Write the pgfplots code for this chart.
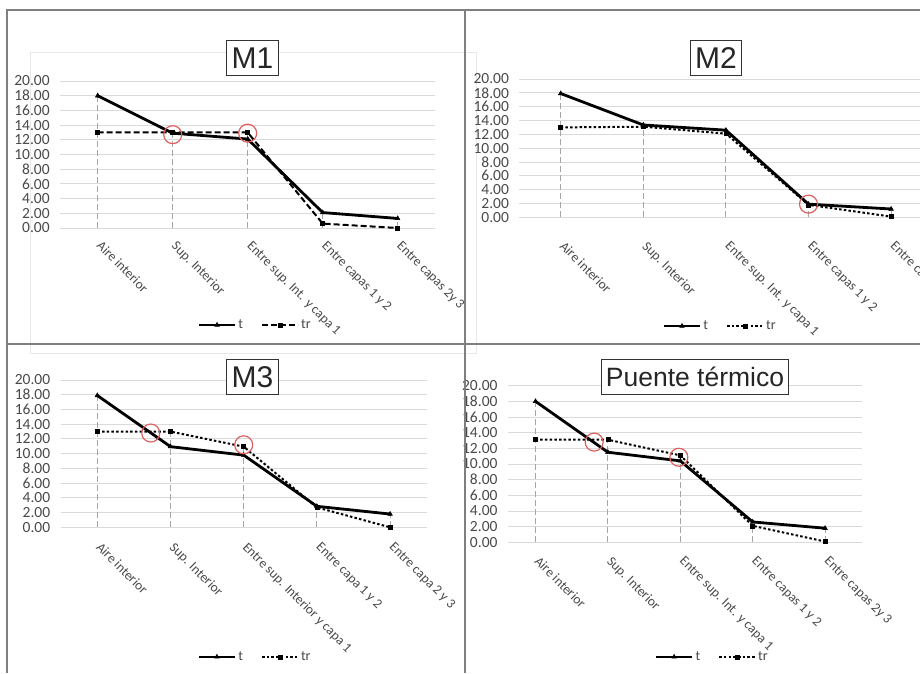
\documentclass[border=0pt]{standalone}
\usepackage{pgfplots}
\pgfplotsset{compat=1.18}
\usepackage{fontspec}
\setmainfont{Carlito}
\newfontfamily\arialf{Liberation Sans}

\definecolor{txt}{HTML}{4A4A4A}
\definecolor{grd}{HTML}{DADADA}
\definecolor{frm}{HTML}{7F7F7F}
\definecolor{drop}{HTML}{A6A6A6}
\definecolor{ring}{HTML}{E06060}

\pgfplotsset{
  panel/.style={
    scale only axis, anchor=south west,
    ymin=0, ymax=20, ytick={0,2,...,20}, xtick={0,...,4},
    axis line style={draw=none}, major tick length=0pt,
    ymajorgrids, grid style={color=grd, line width=0.9pt},
    /pgf/number format/assume math mode=true,
    yticklabel style={font=\fontsize{15.5}{16}\selectfont, color=txt, xshift=-7pt,
      /pgf/number format/.cd, fixed, fixed zerofill, precision=2},
    xticklabel style={font=\fontsize{13.5}{14}\selectfont, color=txt, rotate=-45,
      anchor=north west, inner sep=0pt, xshift=7pt},
    legend style={draw=none, fill=none, anchor=center, legend columns=2,
      font=\fontsize{14}{14}\selectfont, text=txt,
      /tikz/every even column/.append style={column sep=16pt}},
    legend image code/.code={\draw[mark repeat=2, mark phase=2]
      plot coordinates {(0pt,0pt) (18pt,0pt) (36pt,0pt)};},
  },
  tline/.style={black, line width=2.8pt, mark=triangle*, mark size=2.6pt,
    mark options={solid, line width=0.5pt}},
  trdash/.style={black, line width=2pt, dash pattern=on 6pt off 3pt, mark=square*,
    mark size=2pt, mark options={solid, line width=0.5pt}},
  trdot/.style={black, line width=2pt, dash pattern=on 2.5pt off 2.2pt, mark=square*,
    mark size=2pt, mark options={solid, line width=0.5pt}},
  drops/.style={ycomb, drop, line width=1pt, dash pattern=on 6pt off 3pt, no markers, forget plot},
  rings/.style={only marks, mark=o, mark size=9pt, mark options={ring, line width=1.2pt}, forget plot},
}

\begin{document}
\begin{tikzpicture}
\path[use as bounding box] (0pt,0pt) rectangle (920pt,673pt);
\clip (0pt,0pt) rectangle (920pt,673pt);
\fill[white] (0pt,0pt) rectangle (920pt,673pt);

% faint chart-area frame left over in the first panel
\draw[color=black!9, line width=1pt] (30pt,620pt) rectangle (476pt,320pt);

% ---------------- M1 ----------------
\begin{axis}[panel, at={(60.2pt,445pt)}, width=375pt, height=147pt,
  xmin=-0.5, xmax=4.5,
  xticklabels={Aire interior, Sup. Interior, Entre sup. Int. y capa 1, Entre capas 1 y 2, Entre capas 2y 3},
  xticklabel shift=7pt,
  legend style={at={(0.52,-0.66)}}]
\addplot[drops] coordinates {(0,18.0) (1,13.0) (2,13.0) (3,2.1) (4,1.3)};
\addplot[tline] coordinates {(0,18.0) (1,12.9) (2,12.1) (3,2.1) (4,1.3)};
\addplot[trdash] coordinates {(0,13.0) (1,13.0) (2,13.0) (3,0.6) (4,0.0)};
\addplot[rings] coordinates {(1,12.7) (2,12.9)};
\legend{t, tr}
\end{axis}

% ---------------- M2 ----------------
\begin{axis}[panel, at={(519.4pt,455.7pt)}, width=413pt, height=138.3pt,
  xmin=-0.5, xmax=4.5,
  xticklabels={Aire interior, Sup. Interior, Entre sup. Int. y capa 1, Entre capas 1 y 2, Entre capas 2y 3},
  xticklabel shift=18pt,
  legend style={at={(0.486,-0.786)}}]
\addplot[drops] coordinates {(0,17.9) (1,13.35) (2,12.6) (3,1.9) (4,1.2)};
\addplot[tline] coordinates {(0,17.9) (1,13.35) (2,12.6) (3,1.9) (4,1.2)};
\addplot[trdot] coordinates {(0,13.0) (1,13.1) (2,12.1) (3,1.8) (4,0.1)};
\addplot[rings] coordinates {(3,1.9)};
\legend{t, tr}
\end{axis}

% ---------------- M3 ----------------
\begin{axis}[panel, at={(60.7pt,145.7pt)}, width=366pt, height=147.3pt,
  xmin=-0.5, xmax=4.5,
  xticklabels={Aire interior, Sup. Interior, Entre sup. Interior y capa 1, Entre capa 1 y 2, Entre capa 2 y 3},
  xticklabel shift=9pt,
  legend style={at={(0.531,-0.88)}}]
\addplot[drops] coordinates {(0,17.9) (1,13.0) (2,10.95) (3,2.85) (4,1.8)};
\addplot[tline] coordinates {(0,17.9) (1,10.95) (2,9.8) (3,2.85) (4,1.8)};
\addplot[trdot] coordinates {(0,13.0) (1,13.0) (2,10.95) (3,2.7) (4,0.0)};
\addplot[rings] coordinates {(0.73,12.8) (2,11.2)};
\legend{t, tr}
\end{axis}

% ---------------- Puente termico ----------------
\begin{axis}[panel, at={(508pt,130.7pt)}, width=354pt, height=156.6pt,
  xmin=-0.38, xmax=4.51,
  xticklabels={Aire interior, Sup. Interior, Entre sup. Int. y capa 1, Entre capas 1 y 2, Entre capas 2y 3},
  xticklabel shift=8pt,
  legend style={at={(0.577,-0.732)}}]
\addplot[drops] coordinates {(0,18.0) (1,13.1) (2,11.1) (3,2.6) (4,1.8)};
\addplot[tline] coordinates {(0,18.0) (1,11.5) (2,10.4) (3,2.6) (4,1.8)};
\addplot[trdot] coordinates {(0,13.1) (1,13.1) (2,11.1) (3,2.1) (4,0.1)};
\addplot[rings] coordinates {(0.81,12.8) (1.98,10.86)};
\legend{t, tr}
\end{axis}

% boxed titles
\tikzset{ttl/.style={draw=black!80, line width=1pt, fill=white, inner xsep=5pt,
  minimum height=35pt, text=black!85}}
\node[ttl, font=\arialf\fontsize{30}{30}\selectfont] at (252.5pt,614.5pt) {M1};
\node[ttl, font=\arialf\fontsize{30}{30}\selectfont] at (716pt,614.5pt) {M2};
\node[ttl, font=\arialf\fontsize{30}{30}\selectfont] at (252.5pt,296pt) {M3};
\node[ttl, font=\arialf\fontsize{26.5}{27}\selectfont, inner xsep=4pt] at (695pt,296pt) {Puente térmico};

% panel frames
\draw[frm, line width=2.5pt] (7pt,0pt) -- (7pt,663pt) -- (920pt,663pt);
\draw[frm, line width=2.5pt] (465pt,0pt) -- (465pt,663pt);
\draw[frm, line width=2.5pt] (7pt,329pt) -- (920pt,329pt);
\end{tikzpicture}
\end{document}
